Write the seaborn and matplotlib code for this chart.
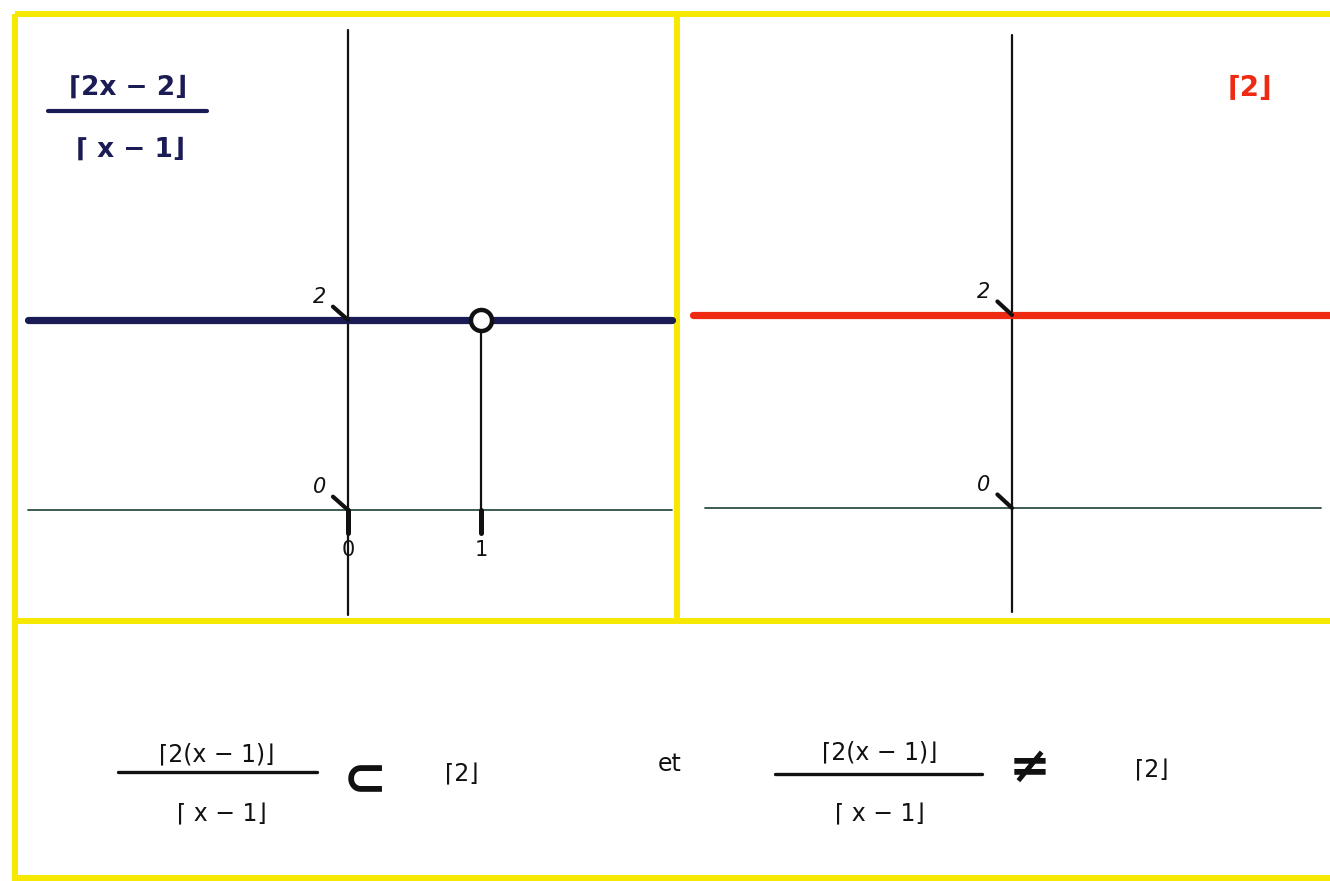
import matplotlib
matplotlib.use("Agg")
import matplotlib.pyplot as plt
import seaborn as sns
import numpy as np
import pandas as pd

sns.set_theme(style="white")
plt.rcParams["font.family"] = ["DejaVu Sans"]

# ---- data -------------------------------------------------------------
# left panel: f(x) = (2x - 2) / (x - 1), equal to 2 everywhere except x = 1
left_x = [-2.406, 2.436]
left_y = [2, 2]
hole_x = [1]
hole_y = [2]

# right panel: g(x) = 2
right_x = [-2.40, 2.39]
right_y = [2, 2]

x_ticks = [0, 1]
x_tick_labels = ["0", "1"]
y_ticks = [0, 2]
y_tick_labels = ["0", "2"]

# ---- colours ----------------------------------------------------------
YELLOW = "#f7e800"
NAVY = "#1b1b55"
RED = "#ee2a12"
AXIS_GREEN = "#2c4f45"
INK = "#111111"

W, H = 1330, 881
fig = plt.figure(figsize=(W / 100, H / 100), dpi=100)
fig.patch.set_facecolor("white")


def px_axes(x0, y0, x1, y1):
    """Axes placed by pixel box (top-left origin)."""
    return fig.add_axes([x0 / W, 1 - y1 / H, (x1 - x0) / W, (y1 - y0) / H])


# ---- left panel -------------------------------------------------------
axL = px_axes(18, 17, 676, 620)
axL.set_xlim(-2.481, 2.466)
axL.set_ylim(-1.158, 5.189)
axL.axis("off")

# axes lines
axL.plot([-2.406, 2.436], [0, 0], color=AXIS_GREEN, lw=1.3, zorder=1)
axL.plot([0, 0], [-1.105, 5.05], color=INK, lw=1.6, zorder=2)

# the function
df_left = pd.DataFrame({"x": left_x, "y": left_y})
sns.lineplot(data=df_left, x="x", y="y", ax=axL, color=NAVY, lw=5.2, zorder=3)

# drop line from the hole to the x axis
axL.plot([hole_x[0], hole_x[0]], [hole_y[0], -0.19], color=INK, lw=1.6, zorder=2)

# hole at x = 1
sns.scatterplot(x=hole_x, y=hole_y, ax=axL, s=230, marker="o",
                facecolor="white", edgecolor=INK, linewidth=3.2, zorder=5)

# x ticks (short heavy strokes below the axis) and labels
for xt, lab in zip(x_ticks, x_tick_labels):
    axL.plot([xt, xt], [0, -0.24], color=INK, lw=3.6, solid_capstyle="round", zorder=4)
    axL.text(xt, -0.42, lab, ha="center", va="center", fontsize=15, color=INK)

# y tick marks: diagonal strokes with labels
for yt, lab in zip(y_ticks, y_tick_labels):
    axL.plot([-0.113, 0], [yt + 0.14, yt], color=INK, lw=3, solid_capstyle="round", zorder=4)
    axL.text(-0.215, yt + 0.24, lab, ha="center", va="center", fontsize=15,
             color=INK, style="italic")

# ---- right panel ------------------------------------------------------
axR = px_axes(679, 17, 1330, 620)
axR.set_xlim(-2.504, 2.391)
axR.set_ylim(-1.161, 5.088)
axR.axis("off")

axR.plot([-2.31, 2.32], [0, 0], color=AXIS_GREEN, lw=1.3, zorder=1)
axR.plot([0, 0], [-1.078, 4.90], color=INK, lw=1.6, zorder=2)

df_right = pd.DataFrame({"x": right_x, "y": right_y})
sns.lineplot(data=df_right, x="x", y="y", ax=axR, color=RED, lw=5.2, zorder=3)

for yt, lab in zip(y_ticks, y_tick_labels):
    axR.plot([-0.11, 0], [yt + 0.14, yt], color=INK, lw=3, solid_capstyle="round", zorder=4)
    axR.text(-0.215, yt + 0.24, lab, ha="center", va="center", fontsize=15,
             color=INK, style="italic")

# ---- page layer: frame and formulas (pixel coordinates) ---------------
page = fig.add_axes([0, 0, 1, 1], zorder=-1)
page.set_xlim(0, W)
page.set_ylim(H, 0)
page.axis("off")

# yellow frame
frame_lw = 4.3
for xs, ys in [([15, 15], [14, 881]), ([15, 1330], [14, 14]),
               ([15, 1330], [621, 621]), ([677, 677], [14, 621]),
               ([15, 1330], [878, 878])]:
    page.plot(xs, ys, color=YELLOW, lw=frame_lw, solid_capstyle="butt")

LC, RC = "\u2308", "\u230b"   # corner brackets

# top-left label: (2x - 2) / (x - 1)
page.text(128, 88, f"{LC}2x \u2212 2{RC}", ha="center", va="center",
          fontsize=19, fontweight="bold", color=NAVY)
page.plot([48, 207], [111, 111], color=NAVY, lw=3)
page.text(130, 150, f"{LC} x \u2212 1{RC}", ha="center", va="center",
          fontsize=19, fontweight="bold", color=NAVY)

# top-right label: 2
page.text(1250, 88, f"{LC}2{RC}", ha="center", va="center",
          fontsize=20, fontweight="bold", color=RED)

# bottom formulas
fs = 17
page.text(217, 754, f"{LC}2(x \u2212 1){RC}", ha="center", va="center", fontsize=fs, color=INK)
page.plot([118, 317], [772, 772], color=INK, lw=2.4)
page.text(222, 814, f"{LC} x \u2212 1{RC}", ha="center", va="center", fontsize=fs, color=INK)
page.text(365, 780, "\u2282", ha="center", va="center", fontsize=38,
          fontweight="bold", color=INK)
page.text(462, 774, f"{LC}2{RC}", ha="center", va="center", fontsize=fs, color=INK)

page.text(670, 764, "et", ha="center", va="center", fontsize=fs, color=INK)

page.text(880, 752, f"{LC}2(x \u2212 1){RC}", ha="center", va="center", fontsize=fs, color=INK)
page.plot([775, 982], [774, 774], color=INK, lw=2.4)
page.text(880, 814, f"{LC} x \u2212 1{RC}", ha="center", va="center", fontsize=fs, color=INK)
page.text(1030, 768, "\u2260", ha="center", va="center", fontsize=36,
          fontweight="bold", color=INK)
page.text(1152, 770, f"{LC}2{RC}", ha="center", va="center", fontsize=fs, color=INK)

fig.savefig("out.png", dpi=100, facecolor="white")
